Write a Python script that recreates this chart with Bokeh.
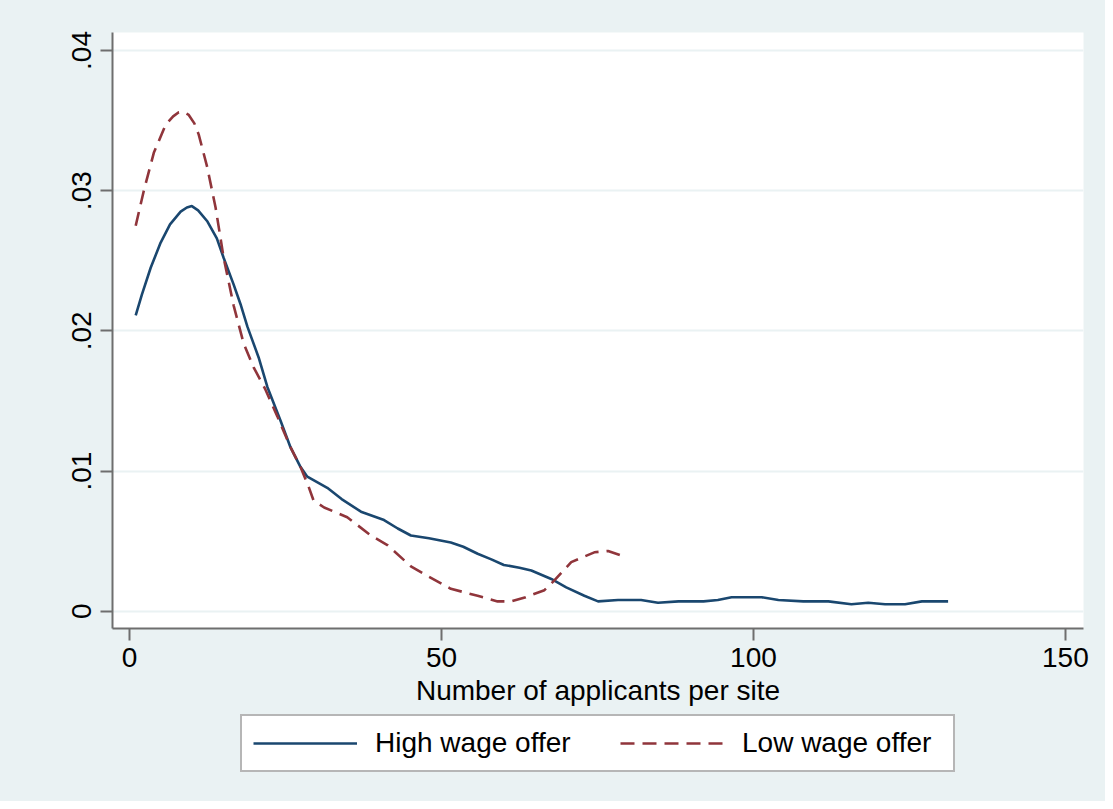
from bokeh.plotting import figure
from bokeh.layouts import column
from bokeh.models import FixedTicker, Legend, LegendItem, Range1d
from bokeh.embed import file_html
from bokeh.resources import INLINE

# ---- data ----
high_x = [1, 2, 3.4, 5, 6.5, 8.2, 9.2, 10, 11, 12.5, 14, 15.1, 16.7, 17.8, 18.9,
          20.7, 22.1, 24.2, 25.8, 27.4, 28.5, 31.7, 34, 37.1, 40.8, 43, 45.1,
          48, 51.5, 53.5, 55.8, 58, 60, 62.5, 64.4, 67.6, 70, 72.9, 75.1, 78.3,
          82, 84.7, 88, 92, 94.3, 96.5, 101.3, 104, 108, 112, 115.7, 118.4,
          121.1, 124.3, 127, 131.2]
high_y = [0.0211, 0.0226, 0.0245, 0.0263, 0.0276, 0.0285, 0.0288, 0.0289, 0.0286,
          0.0278, 0.0266, 0.0252, 0.0233, 0.0219, 0.0203, 0.0181, 0.0160,
          0.0136, 0.0117, 0.0103, 0.0096, 0.0088, 0.0080, 0.0071, 0.0065,
          0.0059, 0.0054, 0.0052, 0.0049, 0.0046, 0.0041, 0.0037, 0.0033,
          0.0031, 0.0029, 0.0023, 0.0017, 0.0011, 0.0007, 0.0008, 0.0008,
          0.0006, 0.0007, 0.0007, 0.0008, 0.0010, 0.0010, 0.0008, 0.0007,
          0.0007, 0.0005, 0.0006, 0.0005, 0.0005, 0.0007, 0.0007]

low_x = [1, 2.3, 3.9, 5.8, 7, 7.9, 8.7, 9.5, 10.4, 11.1, 12.45, 13.8, 15.1, 16.7,
         18.3, 19.9, 21.8, 23.7, 25.8, 27.4, 28.7, 29.5, 31.2, 34.9, 38.7, 41.4,
         45.1, 47.8, 51.5, 55.8, 59, 61.2, 63.5, 66.5, 68.1, 70.8, 74.5, 76.7,
         79.3]
low_y = [0.0275, 0.0300, 0.0327, 0.0347, 0.0353, 0.0356, 0.0356, 0.0354,
         0.0348, 0.0340, 0.0317, 0.0288, 0.0252, 0.0218, 0.0191, 0.0174,
         0.0158, 0.0139, 0.0117, 0.0103, 0.0089, 0.0079, 0.0074, 0.0067,
         0.0054, 0.0047, 0.0032, 0.0025, 0.0016, 0.0011, 0.0007, 0.0007,
         0.0010, 0.0015, 0.0022, 0.0035, 0.0042, 0.0043, 0.0039]

series_x = [high_x, low_x]
series_y = [high_y, low_y]
series_names = ["High wage offer", "Low wage offer"]
series_colors = ["#1A476F", "#90353B"]
series_dashes = ["solid", "14 8"]
x_ticks = [0, 50, 100, 150]
y_ticks = [0, 0.01, 0.02, 0.03, 0.04]
y_tick_labels = ["0", ".01", ".02", ".03", ".04"]
x_title = "Number of applicants per site"

FONT = "Liberation Sans"
BG = "#EAF2F3"
AXIS = "#6E6E6E"
LW = 2.6

# ---------------- main plot ----------------
p = figure(frame_width=971, frame_height=596,
           x_range=Range1d(-2.72, 152.9), y_range=Range1d(-0.001234, 0.041284),
           output_backend="svg", toolbar_location=None,
           min_border_left=112, min_border_top=32, min_border_right=22,
           min_border_bottom=86,
           background_fill_color="white", border_fill_color=BG,
           outline_line_color=None)

for xs, ys, col, dash in zip(series_x, series_y, series_colors, series_dashes):
    p.line(xs, ys, line_color=col, line_width=LW, line_dash=dash)

for ax in (p.xaxis[0], p.yaxis[0]):
    ax.axis_line_color = AXIS
    ax.axis_line_width = 2
    ax.major_tick_line_color = AXIS
    ax.major_tick_line_width = 2
    ax.major_tick_out = 12
    ax.major_tick_in = 0
    ax.minor_tick_line_color = None
    ax.major_label_text_font = FONT
    ax.major_label_text_font_size = "28px"
    ax.major_label_text_color = "black"

p.xaxis.ticker = FixedTicker(ticks=x_ticks)
p.xaxis.major_label_standoff = 7
p.xaxis.axis_label = x_title
p.xaxis.axis_label_text_font = FONT
p.xaxis.axis_label_text_font_size = "28px"
p.xaxis.axis_label_text_font_style = "normal"
p.xaxis.axis_label_text_color = "black"
p.xaxis.axis_label_standoff = 5

p.yaxis.ticker = FixedTicker(ticks=y_ticks)
p.yaxis.major_label_overrides = dict(zip(y_ticks, y_tick_labels))
p.yaxis.major_label_orientation = "vertical"
p.yaxis.major_label_standoff = 9

p.xgrid.visible = False
p.ygrid.grid_line_color = BG
p.ygrid.grid_line_width = 2

# ---------------- legend strip ----------------
# same series drawn again, but off-view (y range far above the data), so only
# their legend entries are visible
leg = figure(width=1105, height=87, min_border=0,
             x_range=Range1d(0, 1), y_range=Range1d(10, 11),
             x_axis_type=None, y_axis_type=None,
             output_backend="svg", toolbar_location=None,
             background_fill_color=BG, border_fill_color=BG,
             outline_line_color=None)
items = []
for xs, ys, name, col, dash in zip(series_x, series_y, series_names,
                                   series_colors, series_dashes):
    r = leg.line(xs, ys, line_color=col, line_width=LW, line_dash=dash)
    items.append(LegendItem(label=name, renderers=[r]))

legend = Legend(items=items, orientation="horizontal", location=(128, 29),
                glyph_width=104, glyph_height=20, label_standoff=18,
                label_width=200, spacing=45, padding=11, margin=0,
                label_text_font=FONT, label_text_font_size="28px",
                label_text_color="black",
                border_line_color=AXIS, border_line_width=2,
                background_fill_color="white", background_fill_alpha=1.0)
leg.add_layout(legend, "center")

layout = column(p, leg, spacing=0, styles={"background-color": BG})
open("out.html", "w").write(file_html(layout, INLINE))
